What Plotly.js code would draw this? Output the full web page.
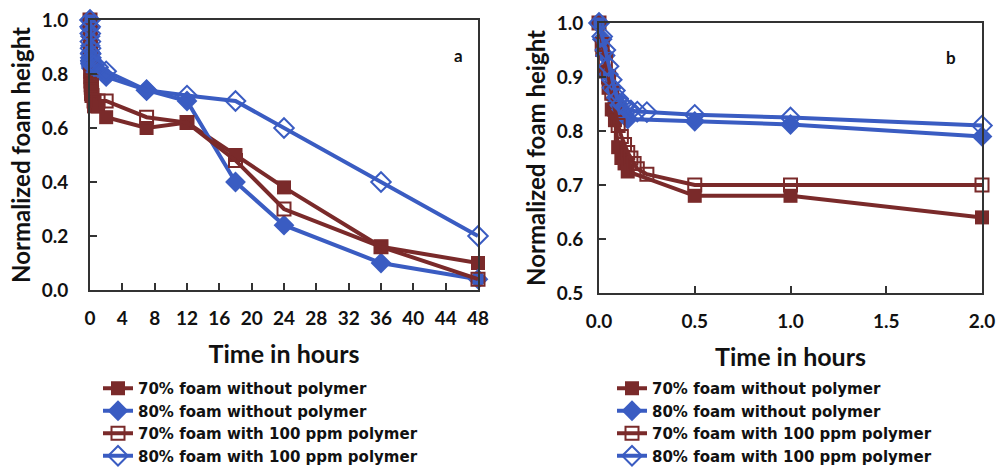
<!DOCTYPE html>
<html>
<head>
<meta charset="utf-8">
<script src="https://cdn.plot.ly/plotly-3.0.1.min.js"></script>
<style>html,body{margin:0;padding:0;background:#fff;}#chart{width:997px;height:467px;}</style>
</head>
<body>
<div id="chart"></div>
<script>
// ---- Data (time in hours, normalized foam height) ----
const seriesNames = [
  "70% foam without polymer",
  "80% foam without polymer",
  "70% foam with 100 ppm polymer",
  "80% foam with 100 ppm polymer"
];
// early-time measurements (0 - 2 h)
const tA = [0, 0.0167, 0.0333, 0.05, 0.0667, 0.0833, 0.1, 0.1167, 0.1333, 0.15, 0.5, 1, 2];
const yA = [1.0, 0.95, 0.91, 0.88, 0.84, 0.82, 0.77, 0.75, 0.74, 0.725, 0.68, 0.68, 0.64];
const tB = [0, 0.0167, 0.0333, 0.05, 0.0667, 0.0833, 0.1, 0.1167, 0.1333, 0.15, 0.5, 1, 2];
const yB = [1.0, 0.97, 0.94, 0.905, 0.88, 0.86, 0.85, 0.84, 0.83, 0.822, 0.818, 0.812, 0.79];
const tC = [0, 0.0167, 0.0333, 0.05, 0.0667, 0.0833, 0.1, 0.1167, 0.1333, 0.15, 0.1667, 0.1833, 0.2, 0.25, 0.5, 1, 2];
const yC = [1.0, 0.96, 0.93, 0.90, 0.87, 0.84, 0.81, 0.79, 0.775, 0.76, 0.75, 0.74, 0.73, 0.72, 0.70, 0.70, 0.70];
const tD = [0, 0.0167, 0.0333, 0.05, 0.0667, 0.0833, 0.1, 0.1167, 0.1333, 0.15, 0.1667, 0.2, 0.25, 0.5, 1, 2];
const yD = [1.0, 0.975, 0.95, 0.92, 0.895, 0.875, 0.86, 0.85, 0.845, 0.84, 0.838, 0.836, 0.835, 0.83, 0.825, 0.81];
// long-time measurements (panel a only)
const tLong = [7, 12, 18, 24, 36, 48];
const yA_long = [0.60, 0.62, 0.50, 0.38, 0.16, 0.10];
const yB_long = [0.74, 0.70, 0.40, 0.24, 0.10, 0.04];
const yC_long = [0.64, 0.62, 0.48, 0.30, 0.16, 0.04];
const yD_long = [0.74, 0.72, 0.70, 0.60, 0.40, 0.20];
// tick labels
const xTicksA = [0, 4, 8, 12, 16, 20, 24, 28, 32, 36, 40, 44, 48];
const xTicksB = [0, 0.5, 1.0, 1.5, 2.0];
const yTicksA = [0, 0.2, 0.4, 0.6, 0.8, 1.0];
const yTicksB = [0.5, 0.6, 0.7, 0.8, 0.9, 1.0];

// ---- Styles ----
const BROWN = '#7a2a2a';
const BLUE = '#3a5cc2';
const styles = [
  {color: BROWN, marker: {symbol: 'square', size: 14, color: BROWN}},
  {color: BLUE, marker: {symbol: 'diamond', size: 16, color: BLUE}},
  {color: BROWN, marker: {symbol: 'square-open', size: 13, color: BROWN, line: {width: 2, color: BROWN}}},
  {color: BLUE, marker: {symbol: 'diamond-open', size: 15, color: BLUE, line: {width: 2, color: BLUE}}}
];
const early = [[tA, yA], [tB, yB], [tC, yC], [tD, yD]];
const longs = [yA_long, yB_long, yC_long, yD_long];

const traces = [];
// panel a
early.forEach((s, i) => {
  traces.push({
    type: 'scatter', mode: 'lines+markers',
    x: s[0].concat(tLong), y: s[1].concat(longs[i]),
    name: seriesNames[i], xaxis: 'x', yaxis: 'y',
    line: {color: styles[i].color, width: 4},
    marker: styles[i].marker, cliponaxis: false,
    legend: 'legend', showlegend: true
  });
});
// panel b
early.forEach((s, i) => {
  traces.push({
    type: 'scatter', mode: 'lines+markers',
    x: s[0], y: s[1],
    name: seriesNames[i], xaxis: 'x2', yaxis: 'y2',
    line: {color: styles[i].color, width: 4},
    marker: styles[i].marker, cliponaxis: false,
    legend: 'legend2', showlegend: true
  });
});

const tickFont = {family: 'Lato, sans-serif', size: 19, weight: 'bold', color: '#111'};
const xTitleFont = {family: 'Lato, sans-serif', size: 25, weight: 'bold', color: '#111'};
const yTitleFont = {family: 'Lato, sans-serif', size: 24, weight: 'bold', color: '#111'};
const axisCommon = {
  showgrid: false, zeroline: false, showline: true, linecolor: '#333', linewidth: 2,
  mirror: true, ticks: 'inside', ticklen: 7, tickwidth: 2, tickcolor: '#333',
  tickfont: tickFont, automargin: false
};
const legendFont = {family: '"DejaVu Sans", sans-serif', size: 15, weight: 'bold', color: '#111'};

const layout = {
  width: 997, height: 467,
  margin: {l: 0, r: 0, t: 0, b: 0, autoexpand: false},
  paper_bgcolor: '#fff', plot_bgcolor: '#fff',
  font: {family: 'Lato, sans-serif', weight: 'bold'},
  xaxis: Object.assign({}, axisCommon, {
    domain: [90/997, 478/997], range: [0, 48], tickvals: xTicksA,
    ticktext: xTicksA.map(String), ticklabelstandoff: 10, anchor: 'y',
    title: {text: 'Time in hours', font: xTitleFont, standoff: 18}
  }),
  yaxis: Object.assign({}, axisCommon, {
    domain: [1 - 290/467, 1 - 20/467], range: [0, 1.0], tickvals: yTicksA,
    ticktext: yTicksA.map(v => v.toFixed(1)), ticklabelstandoff: 16, anchor: 'x',
    title: {text: 'Normalized foam height', font: yTitleFont, standoff: 4}
  }),
  xaxis2: Object.assign({}, axisCommon, {
    domain: [599/997, 982/997], range: [0, 2.0], tickvals: xTicksB,
    ticktext: xTicksB.map(v => v.toFixed(1)), ticklabelstandoff: 10, anchor: 'y2',
    title: {text: 'Time in hours', font: xTitleFont, standoff: 18}
  }),
  yaxis2: Object.assign({}, axisCommon, {
    domain: [1 - 293/467, 1 - 23/467], range: [0.5, 1.0], tickvals: yTicksB,
    ticktext: yTicksB.map(v => v.toFixed(1)), ticklabelstandoff: 10, anchor: 'x2',
    title: {text: 'Normalized foam height', font: yTitleFont, standoff: 4}
  }),
  legend: {
    x: 98/997, y: 1 - 372/467, xanchor: 'left', yanchor: 'top',
    font: legendFont, bgcolor: 'rgba(0,0,0,0)', tracegroupgap: 0, itemwidth: 30
  },
  legend2: {
    x: 612/997, y: 1 - 372/467, xanchor: 'left', yanchor: 'top',
    font: legendFont, bgcolor: 'rgba(0,0,0,0)', tracegroupgap: 0, itemwidth: 30
  },
  annotations: [
    {text: 'a', xref: 'paper', yref: 'paper', x: 458/997, y: 1 - 43/467, showarrow: false,
     font: {family: 'Lato, sans-serif', size: 17, weight: 'bold', color: '#111'}},
    {text: 'b', xref: 'paper', yref: 'paper', x: 958/997, y: 1 - 45/467, showarrow: false,
     font: {family: 'Lato, sans-serif', size: 17, weight: 'bold', color: '#111'}}
  ],
  showlegend: true
};

Plotly.newPlot('chart', traces, layout, {displayModeBar: false, staticPlot: true});
</script>
</body>
</html>
